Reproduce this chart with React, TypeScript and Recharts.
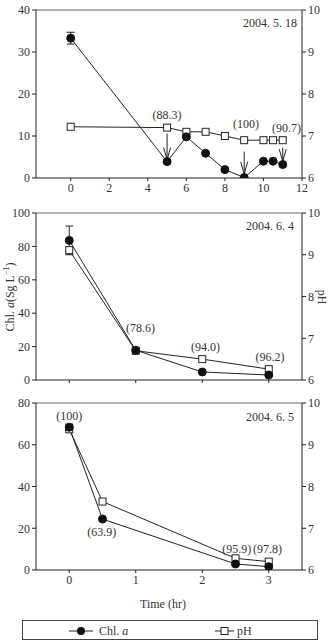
import { LineChart, Line, XAxis, YAxis, ErrorBar, ReferenceDot, ReferenceLine } from "recharts"

const FONT = "'Liberation Serif', 'DejaVu Serif', serif"
const INK = "#222"
const TEXT = "#333"

// 2004. 5. 18
const hours1 = [0, 5, 6, 7, 8, 9, 10, 10.5, 11]
const chl1 = [33.3, 3.9, 9.8, 5.9, 2.0, 0.1, 4.0, 4.0, 3.2]
const ph1 = [7.22, 7.2, 7.1, 7.1, 7.0, 6.9, 6.9, 6.9, 6.9]
const err1 = [1.4, 0, 0, 0, 0, 0, 0, 0, 0]
const notes1 = ["(88.3)", "(100)", "(90.7)"]
const noteX1 = [5, 9.1, 11.2]
const noteY1 = [15, 12.9, 11.9]
const arrowX1 = [5, 9, 11]
const arrowFrom1 = [10.6, 6.3, 7.2]
const arrowTo1 = [4.4, 1.0, 4.0]

// 2004. 6. 4
const hours2 = [0, 1, 2, 3]
const chl2 = [83.6, 17.8, 4.8, 3.0]
const ph2 = [9.11, 6.7, 6.5, 6.26]
const err2 = [8.6, 0, 0, 0]
const notes2 = ["(78.6)", "(94.0)", "(96.2)"]
const noteX2 = [1.07, 2.05, 3.02]
const noteY2 = [31, 19.8, 13.8]

// 2004. 6. 5
const hours3 = [0, 0.5, 2.5, 3]
const chl3 = [68.4, 24.4, 2.9, 1.6]
const ph3 = [9.37, 7.64, 6.28, 6.2]
const err3 = [1.5, 0, 0, 0]
const notes3 = ["(100)", "(63.9)", "(95.9)", "(97.8)"]
const noteX3 = [0, 0.49, 2.52, 2.98]
const noteY3 = [74, 18.2, 10, 10]

const build = (x: number[], chl: number[], ph: number[], err: number[]) =>
  x.map((h, i) => ({ h, chl: chl[i], ph: ph[i], err: err[i] }))

const tickStyle = { fill: TEXT, fontSize: 12, fontFamily: FONT }

const Square = (props: any) => {
  const { cx, cy } = props
  if (cx == null || cy == null) return <g />
  return <rect x={cx - 3.5} y={cy - 3.5} width={7} height={7} fill="#fff" stroke={INK} strokeWidth={1} />
}

const Arrow = (p: any) => {
  const { x1, y1, x2, y2 } = p
  if (x1 == null) return <g />
  return (
    <g>
      <line x1={x1} y1={y1} x2={x2} y2={y2} stroke={INK} strokeWidth={1} />
      <polyline points={`${x2 - 3.5},${y2 - 12} ${x2},${y2} ${x2 + 3.5},${y2 - 12}`} fill="none" stroke={INK} strokeWidth={1} />
    </g>
  )
}

const noteShape = (text: string) => (p: any) =>
  (
    <text x={p.cx} y={p.cy} textAnchor="middle" dominantBaseline="central" fill={TEXT} fontSize={12} fontFamily={FONT}>
      {text}
    </text>
  )

function Panel(props: {
  data: any[]
  height: number
  top: number
  xDomain: number[]
  xTicks: number[]
  showX: boolean
  xHeight: number
  lDomain: number[]
  lTicks: number[]
  notes: string[]
  noteX: number[]
  noteY: number[]
  arrows?: { x: number[]; from: number[]; to: number[] }
}) {
  const { data, lDomain } = props
  return (
    <LineChart width={331} height={props.height} data={data} margin={{ top: props.top, right: 0, bottom: 0, left: 0 }}>
      <XAxis
        dataKey="h"
        type="number"
        domain={props.xDomain}
        ticks={props.xTicks}
        height={props.xHeight}
        stroke={INK}
        tickSize={3}
        tick={tickStyle}
        tickFormatter={(v) => (props.showX ? String(v) : "")}
        allowDataOverflow
      />
      <YAxis yAxisId="l" domain={lDomain} ticks={props.lTicks} width={36} stroke={INK} tickSize={4} tick={tickStyle} allowDataOverflow />
      <YAxis
        yAxisId="r"
        orientation="right"
        domain={[6, 10]}
        ticks={[6, 7, 8, 9, 10]}
        width={29}
        stroke={INK}
        tickSize={4}
        tick={tickStyle}
        allowDataOverflow
      />
      <ReferenceLine yAxisId="l" y={lDomain[1]} stroke="#999" strokeWidth={1.5} />
      <Line
        yAxisId="r"
        dataKey="ph"
        stroke={INK}
        strokeWidth={1}
        dot={<Square />}
        isAnimationActive={false}
      />
      <Line
        yAxisId="l"
        dataKey="chl"
        stroke={INK}
        strokeWidth={1}
        dot={{ r: 4, fill: "#111", stroke: "#111", strokeWidth: 1 }}
        isAnimationActive={false}
      >
        <ErrorBar dataKey="err" width={4} stroke={INK} strokeWidth={1} direction="y" />
      </Line>
      {props.arrows &&
        props.arrows.x.map((x, i) => (
          <ReferenceLine
            key={"a" + i}
            yAxisId="l"
            segment={[
              { x, y: props.arrows!.from[i] },
              { x, y: props.arrows!.to[i] },
            ]}
            shape={Arrow}
          />
        ))}
      {props.notes.map((t, i) => (
        <ReferenceDot key={"n" + i} yAxisId="l" x={props.noteX[i]} y={props.noteY[i]} r={0} shape={noteShape(t)} />
      ))}
    </LineChart>
  )
}

const abs = (left: number, top: number, extra: any = {}) => ({
  position: "absolute" as const,
  left,
  top,
  fontFamily: FONT,
  fontSize: 12,
  color: TEXT,
  whiteSpace: "nowrap" as const,
  ...extra,
})

export default function App() {
  return (
    <div style={{ position: "absolute", left: 0, top: 0, width: 331, height: 641, background: "#fff", overflow: "hidden" }}>
      <div style={{ position: "absolute", left: 0, top: 0 }}>
        <Panel
          data={build(hours1, chl1, ph1, err1)}
          height={200}
          top={10}
          xDomain={[-1.8, 12]}
          xTicks={[0, 2, 4, 6, 8, 10, 12]}
          showX
          xHeight={22}
          lDomain={[0, 40]}
          lTicks={[0, 10, 20, 30, 40]}
          notes={notes1}
          noteX={noteX1}
          noteY={noteY1}
          arrows={{ x: arrowX1, from: arrowFrom1, to: arrowTo1 }}
        />
      </div>
      <div style={{ position: "absolute", left: 0, top: 200 }}>
        <Panel
          data={build(hours2, chl2, ph2, err2)}
          height={190}
          top={13}
          xDomain={[-0.5, 3.5]}
          xTicks={[0, 1, 2, 3]}
          showX={false}
          xHeight={10}
          lDomain={[0, 100]}
          lTicks={[0, 20, 40, 60, 80, 100]}
          notes={notes2}
          noteX={noteX2}
          noteY={noteY2}
        />
      </div>
      <div style={{ position: "absolute", left: 0, top: 393 }}>
        <Panel
          data={build(hours3, chl3, ph3, err3)}
          height={222}
          top={10}
          xDomain={[-0.5, 3.5]}
          xTicks={[0, 1, 2, 3]}
          showX
          xHeight={45}
          lDomain={[0, 80]}
          lTicks={[0, 20, 40, 60, 80]}
          notes={notes3}
          noteX={noteX3}
          noteY={noteY3}
        />
      </div>

      <div style={abs(243, 16)}>2004. 5. 18</div>
      <div style={abs(246, 219)}>2004. 6. 4</div>
      <div style={abs(246, 410)}>2004. 6. 5</div>

      <div style={abs(140, 597)}>Time (hr)</div>

      <div style={abs(-30, 289, { transform: "rotate(-90deg)", width: 80, textAlign: "center" })}>
        Chl. <i>a</i>(Sg L<sup style={{ fontSize: 8 }}>−1</sup>)
      </div>
      <div style={abs(312, 290, { transform: "rotate(90deg)", width: 20, textAlign: "center", lineHeight: "14px" })}>pH</div>

      <div
        style={{
          position: "absolute",
          left: 22,
          top: 620,
          width: 294,
          height: 18,
          border: "1px solid #444",
        }}
      >
        <svg width={294} height={18} style={{ position: "absolute", left: 0, top: 0 }}>
          <line x1={46} y1={10} x2={70} y2={10} stroke={INK} />
          <circle cx={58} cy={10} r={4} fill="#111" />
          <text x={76} y={14} fill={TEXT} fontSize={12} fontFamily={FONT}>
            Chl. <tspan fontStyle="italic">a</tspan>
          </text>
          <line x1={192} y1={10} x2={211} y2={10} stroke={INK} />
          <rect x={198} y={6.5} width={7} height={7} fill="#fff" stroke={INK} />
          <text x={214} y={14} fill={TEXT} fontSize={12} fontFamily={FONT}>
            pH
          </text>
        </svg>
      </div>
    </div>
  )
}
